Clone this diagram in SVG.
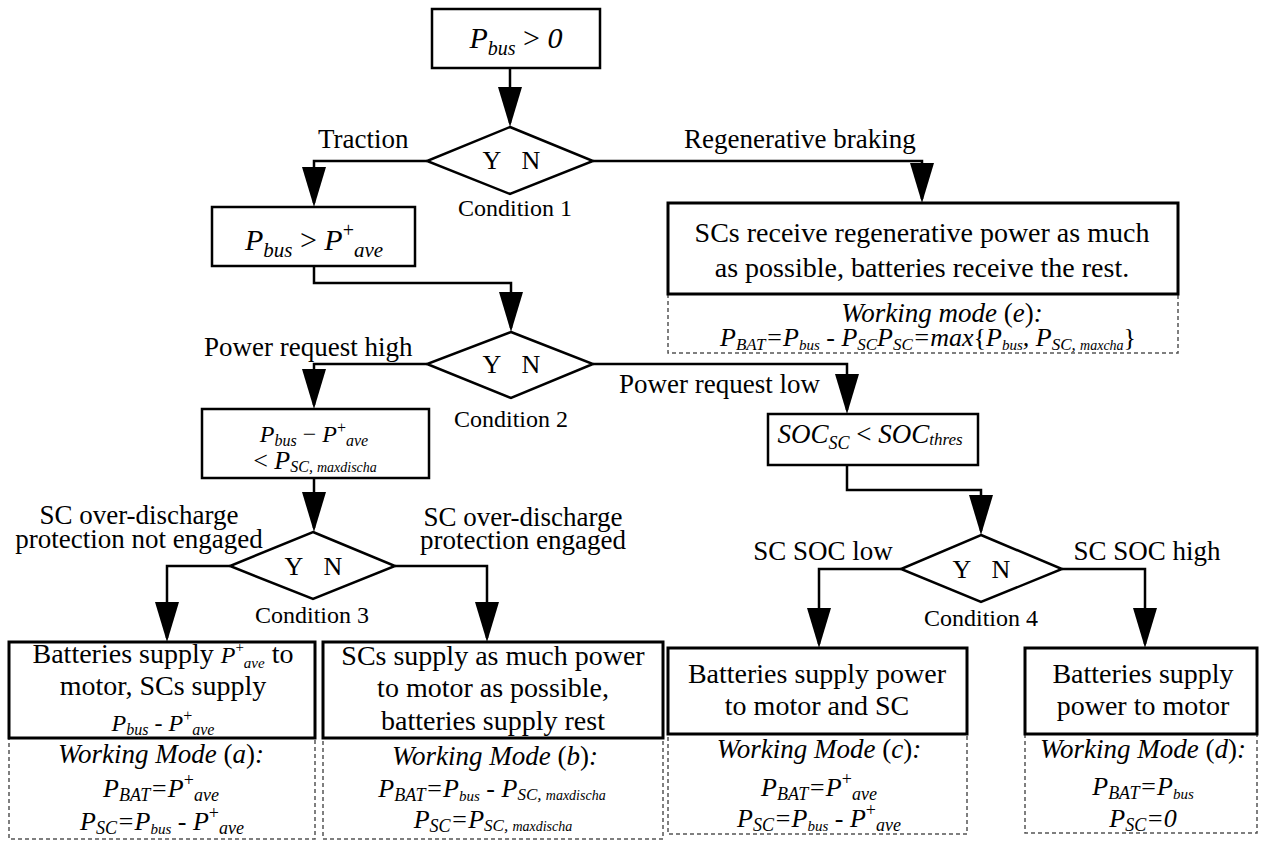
<svg xmlns="http://www.w3.org/2000/svg" width="1261" height="841" viewBox="0 0 1261 841">
  <defs>
    <marker id="ah" markerUnits="userSpaceOnUse" markerWidth="40" markerHeight="24" refX="36" refY="12" orient="auto">
      <path d="M0,0 L40,12 L0,24 Z" fill="#000"/>
    </marker>
  </defs>

  <rect width="1261" height="841" fill="#fff"/>

  <!-- connectors and their labels -->
  <g id="connectors">
    <g fill="none" stroke="#000" stroke-width="2.5" marker-end="url(#ah)">
      <path d="M510,68 V123"/>
      <path d="M427,161 H314 V203"/>
      <path d="M593,161 H922 V199"/>
      <path d="M314,266 V283 H511 V328"/>
      <path d="M427,364 H314 V405"/>
      <path d="M593,364 H847 V410"/>
      <path d="M314,478 V528"/>
      <path d="M230,566 H167 V638"/>
      <path d="M395,566 H487 V638"/>
      <path d="M847,465 V490 H981 V531"/>
      <path d="M901,569 H819 V644"/>
      <path d="M1062,569 H1145 V644"/>
    </g>
    <text style="font-family:'Liberation Serif',serif" font-size="27" x="318" y="148">Traction</text>
    <text style="font-family:'Liberation Serif',serif" font-size="27" x="684" y="148">Regenerative braking</text>
    <text style="font-family:'Liberation Serif',serif" font-size="27" x="204" y="356">Power request high</text>
    <text style="font-family:'Liberation Serif',serif" font-size="27" x="820" y="393" text-anchor="end">Power request low</text>
    <text style="font-family:'Liberation Serif',serif" font-size="27" text-anchor="middle" x="139" y="524">SC over-discharge</text>
    <text style="font-family:'Liberation Serif',serif" font-size="27" text-anchor="middle" x="139" y="548">protection not engaged</text>
    <text style="font-family:'Liberation Serif',serif" font-size="27" text-anchor="middle" x="523" y="526">SC over-discharge</text>
    <text style="font-family:'Liberation Serif',serif" font-size="27" text-anchor="middle" x="523" y="549">protection engaged</text>
    <text style="font-family:'Liberation Serif',serif" font-size="27" text-anchor="middle" x="823" y="560">SC SOC low</text>
    <text style="font-family:'Liberation Serif',serif" font-size="27" text-anchor="middle" x="1147" y="560">SC SOC high</text>
  </g>

  <!-- start test -->
  <g id="start">
    <rect x="432" y="9" width="168" height="59" fill="#fff" stroke="#000" stroke-width="2.5"/>
    <text style="font-family:'Liberation Serif',serif" font-style="italic" text-anchor="middle" x="516" y="48" font-size="30">P<tspan font-size="20" dy="7">bus</tspan><tspan dy="-7" font-style="normal"> &gt; </tspan>0</text>
  </g>

  <!-- condition 1 -->
  <g id="cond1">
    <polygon points="510,127 593,161 510,194 427,161" fill="#fff" stroke="#000" stroke-width="2.5"/>
    <text style="font-family:'Liberation Serif',serif" font-size="26" text-anchor="middle" x="492" y="169">Y</text>
    <text style="font-family:'Liberation Serif',serif" font-size="26" text-anchor="middle" x="531" y="169">N</text>
    <text style="font-family:'Liberation Serif',serif" font-size="24" text-anchor="middle" x="515" y="216">Condition 1</text>
  </g>

  <!-- regenerative braking -->
  <g id="mode-e">
    <rect x="668" y="294" width="510" height="59" fill="#fff" stroke="#555" stroke-width="1.5" stroke-dasharray="4 3"/>
    <rect x="668" y="203" width="510" height="91" fill="#fff" stroke="#000" stroke-width="3"/>
    <text style="font-family:'Liberation Serif',serif" font-size="28" text-anchor="middle" x="922" y="242">SCs receive regenerative power as much</text>
    <text style="font-family:'Liberation Serif',serif" font-size="28" text-anchor="middle" x="922" y="277">as possible, batteries receive the rest.</text>
    <text style="font-family:'Liberation Serif',serif" font-size="27" font-style="italic" text-anchor="middle" x="942" y="322">Working mode <tspan font-style="normal">(</tspan>e<tspan font-style="normal">)</tspan>:</text>
    <text style="font-family:'Liberation Serif',serif" font-style="italic" x="720" y="346" font-size="26">P<tspan font-size="17" dy="4">BAT</tspan><tspan dy="-4">=P</tspan><tspan font-size="15" dy="4">bus</tspan><tspan dy="-4" font-style="normal"> - </tspan>P<tspan font-size="17" dy="4">SC</tspan></text>
    <text style="font-family:'Liberation Serif',serif" font-style="italic" x="877" y="346" font-size="26">P<tspan font-size="17" dy="4">SC</tspan><tspan dy="-4">=max</tspan><tspan font-style="normal">{</tspan>P<tspan font-size="15" dy="4">bus</tspan><tspan dy="-4">, P</tspan><tspan font-size="17" dy="4">SC, </tspan><tspan font-size="14">maxcha</tspan><tspan dy="-4" font-style="normal">}</tspan></text>
  </g>

  <!-- traction average test -->
  <g id="avg-test">
    <rect x="212" y="207" width="203" height="59" fill="#fff" stroke="#000" stroke-width="2.5"/>
    <text style="font-family:'Liberation Serif',serif" font-style="italic" text-anchor="middle" x="314" y="250" font-size="30">P<tspan font-size="21" dy="7">bus</tspan><tspan dy="-7" font-style="normal"> &gt; </tspan>P<tspan font-size="20" dy="-13" font-style="normal">+</tspan><tspan font-size="21" dy="20">ave</tspan></text>
  </g>

  <!-- condition 2 -->
  <g id="cond2">
    <polygon points="511,332 593,364 511,398 427,364" fill="#fff" stroke="#000" stroke-width="2.5"/>
    <text style="font-family:'Liberation Serif',serif" font-size="26" text-anchor="middle" x="492" y="373">Y</text>
    <text style="font-family:'Liberation Serif',serif" font-size="26" text-anchor="middle" x="531" y="373">N</text>
    <text style="font-family:'Liberation Serif',serif" font-size="24" text-anchor="middle" x="511" y="427">Condition 2</text>
  </g>

  <!-- discharge limit test -->
  <g id="dis-test">
    <rect x="202" y="409" width="227" height="69" fill="#fff" stroke="#000" stroke-width="2.5"/>
    <text style="font-family:'Liberation Serif',serif" font-style="italic" text-anchor="middle" x="314" y="442" font-size="24">P<tspan font-size="16" dy="4">bus</tspan><tspan dy="-4" font-style="normal">  − </tspan>P<tspan font-size="16" dy="-9" font-style="normal">+</tspan><tspan font-size="16" dy="13">ave</tspan></text>
    <text style="font-family:'Liberation Serif',serif" font-style="italic" text-anchor="middle" x="315" y="469" font-size="26"><tspan font-style="normal">&lt; </tspan>P<tspan font-size="16" dy="3">SC, </tspan><tspan font-size="14">maxdischa</tspan></text>
  </g>

  <!-- SOC test -->
  <g id="soc-test">
    <rect x="768" y="414" width="210" height="51" fill="#fff" stroke="#000" stroke-width="2.5"/>
    <text style="font-family:'Liberation Serif',serif" font-style="italic" text-anchor="middle" x="870" y="443" font-size="27">SOC<tspan font-size="18" dy="6">SC</tspan><tspan dy="-6" font-style="normal"> &lt; </tspan>SOC<tspan font-size="17" dy="2">thres</tspan></text>
  </g>

  <!-- condition 3 -->
  <g id="cond3">
    <polygon points="313,532 395,566 313,599 230,566" fill="#fff" stroke="#000" stroke-width="2.5"/>
    <text style="font-family:'Liberation Serif',serif" font-size="26" text-anchor="middle" x="294" y="575">Y</text>
    <text style="font-family:'Liberation Serif',serif" font-size="26" text-anchor="middle" x="333" y="575">N</text>
    <text style="font-family:'Liberation Serif',serif" font-size="24" text-anchor="middle" x="312" y="623">Condition 3</text>
  </g>

  <!-- condition 4 -->
  <g id="cond4">
    <polygon points="981,535 1062,569 981,602 901,569" fill="#fff" stroke="#000" stroke-width="2.5"/>
    <text style="font-family:'Liberation Serif',serif" font-size="26" text-anchor="middle" x="962" y="578">Y</text>
    <text style="font-family:'Liberation Serif',serif" font-size="26" text-anchor="middle" x="1001" y="578">N</text>
    <text style="font-family:'Liberation Serif',serif" font-size="24" text-anchor="middle" x="981" y="626">Condition 4</text>
  </g>

  <!-- working mode (a) -->
  <g id="mode-a">
    <rect x="9" y="738" width="306" height="101" fill="#fff" stroke="#555" stroke-width="1.5" stroke-dasharray="4 3"/>
    <rect x="9" y="642" width="306" height="96" fill="#fff" stroke="#000" stroke-width="3"/>
    <text style="font-family:'Liberation Serif',serif" font-size="28" text-anchor="middle" x="163" y="663">Batteries supply <tspan font-style="italic" font-size="24">P</tspan><tspan font-size="15" dy="-11">+</tspan><tspan font-style="italic" font-size="15" dy="16">ave</tspan><tspan dy="-5"> to</tspan></text>
    <text style="font-family:'Liberation Serif',serif" font-size="28" text-anchor="middle" x="163" y="695">motor, SCs supply</text>
    <text style="font-family:'Liberation Serif',serif" font-style="italic" text-anchor="middle" x="163" y="731" font-size="24">P<tspan font-size="16" dy="4">bus</tspan><tspan dy="-4" font-style="normal"> - </tspan>P<tspan font-size="16" dy="-10" font-style="normal">+</tspan><tspan font-size="16" dy="14">ave</tspan></text>
    <text style="font-family:'Liberation Serif',serif" font-size="27" font-style="italic" text-anchor="middle" x="161" y="763">Working Mode <tspan font-style="normal">(</tspan>a<tspan font-style="normal">)</tspan>:</text>
    <text style="font-family:'Liberation Serif',serif" font-size="26" font-style="italic" text-anchor="middle" x="161" y="797">P<tspan font-size="18" dy="4">BAT</tspan><tspan dy="-4">=P</tspan><tspan font-size="18" dy="-11" font-style="normal">+</tspan><tspan font-size="18" dy="15">ave</tspan></text>
    <text style="font-family:'Liberation Serif',serif" font-size="26" font-style="italic" text-anchor="middle" x="162" y="830">P<tspan font-size="18" dy="4">SC</tspan><tspan dy="-4">=P</tspan><tspan font-size="15" dy="4">bus</tspan><tspan dy="-4" font-style="normal"> - </tspan>P<tspan font-size="18" dy="-11" font-style="normal">+</tspan><tspan font-size="18" dy="15">ave</tspan></text>
  </g>

  <!-- working mode (b) -->
  <g id="mode-b">
    <rect x="323" y="738" width="340" height="101" fill="#fff" stroke="#555" stroke-width="1.5" stroke-dasharray="4 3"/>
    <rect x="323" y="642" width="340" height="96" fill="#fff" stroke="#000" stroke-width="3"/>
    <text style="font-family:'Liberation Serif',serif" font-size="28" text-anchor="middle" x="493" y="665">SCs supply as much power</text>
    <text style="font-family:'Liberation Serif',serif" font-size="28" text-anchor="middle" x="493" y="697">to motor as possible,</text>
    <text style="font-family:'Liberation Serif',serif" font-size="28" text-anchor="middle" x="493" y="730">batteries supply rest</text>
    <text style="font-family:'Liberation Serif',serif" font-size="27" font-style="italic" text-anchor="middle" x="495" y="765">Working Mode <tspan font-style="normal">(</tspan>b<tspan font-style="normal">)</tspan>:</text>
    <text style="font-family:'Liberation Serif',serif" font-size="26" font-style="italic" text-anchor="middle" x="492" y="797">P<tspan font-size="18" dy="4">BAT</tspan><tspan dy="-4">=P</tspan><tspan font-size="15" dy="4">bus</tspan><tspan dy="-4" font-style="normal"> - </tspan>P<tspan font-size="17" dy="3">SC, </tspan><tspan font-size="14">maxdischa</tspan></text>
    <text style="font-family:'Liberation Serif',serif" font-size="26" font-style="italic" text-anchor="middle" x="493" y="828">P<tspan font-size="18" dy="4">SC</tspan><tspan dy="-4">=P</tspan><tspan font-size="17" dy="3">SC, </tspan><tspan font-size="14">maxdischa</tspan></text>
  </g>

  <!-- working mode (c) -->
  <g id="mode-c">
    <rect x="668" y="734" width="299" height="100" fill="#fff" stroke="#555" stroke-width="1.5" stroke-dasharray="4 3"/>
    <rect x="668" y="648" width="299" height="86" fill="#fff" stroke="#000" stroke-width="3"/>
    <text style="font-family:'Liberation Serif',serif" font-size="28" text-anchor="middle" x="817" y="683">Batteries supply power</text>
    <text style="font-family:'Liberation Serif',serif" font-size="28" text-anchor="middle" x="817" y="715">to motor and SC</text>
    <text style="font-family:'Liberation Serif',serif" font-size="27" font-style="italic" text-anchor="middle" x="819" y="758">Working Mode <tspan font-style="normal">(</tspan>c<tspan font-style="normal">)</tspan>:</text>
    <text style="font-family:'Liberation Serif',serif" font-size="26" font-style="italic" text-anchor="middle" x="819" y="796">P<tspan font-size="18" dy="4">BAT</tspan><tspan dy="-4">=P</tspan><tspan font-size="18" dy="-11" font-style="normal">+</tspan><tspan font-size="18" dy="15">ave</tspan></text>
    <text style="font-family:'Liberation Serif',serif" font-size="26" font-style="italic" text-anchor="middle" x="819" y="827">P<tspan font-size="18" dy="4">SC</tspan><tspan dy="-4">=P</tspan><tspan font-size="15" dy="4">bus</tspan><tspan dy="-4" font-style="normal"> - </tspan>P<tspan font-size="18" dy="-11" font-style="normal">+</tspan><tspan font-size="18" dy="15">ave</tspan></text>
  </g>

  <!-- working mode (d) -->
  <g id="mode-d">
    <rect x="1025" y="734" width="232" height="99" fill="#fff" stroke="#555" stroke-width="1.5" stroke-dasharray="4 3"/>
    <rect x="1025" y="648" width="232" height="86" fill="#fff" stroke="#000" stroke-width="3"/>
    <text style="font-family:'Liberation Serif',serif" font-size="28" text-anchor="middle" x="1143" y="683">Batteries supply</text>
    <text style="font-family:'Liberation Serif',serif" font-size="28" text-anchor="middle" x="1143" y="715">power to motor</text>
    <text style="font-family:'Liberation Serif',serif" font-size="27" font-style="italic" text-anchor="middle" x="1143" y="758">Working Mode <tspan font-style="normal">(</tspan>d<tspan font-style="normal">)</tspan>:</text>
    <text style="font-family:'Liberation Serif',serif" font-size="26" font-style="italic" text-anchor="middle" x="1143" y="795">P<tspan font-size="18" dy="4">BAT</tspan><tspan dy="-4">=P</tspan><tspan font-size="15" dy="4">bus</tspan></text>
    <text style="font-family:'Liberation Serif',serif" font-size="26" font-style="italic" text-anchor="middle" x="1143" y="827">P<tspan font-size="18" dy="4">SC</tspan><tspan dy="-4">=0</tspan></text>
  </g>
</svg>
